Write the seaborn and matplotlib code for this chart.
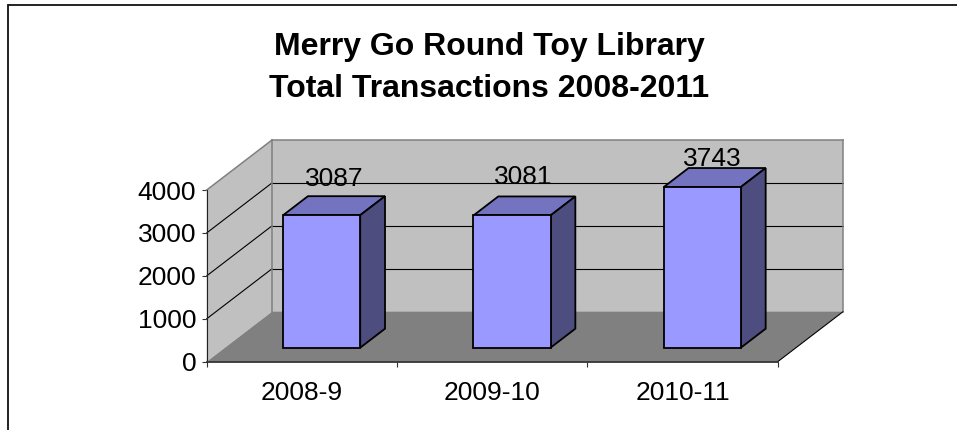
import matplotlib
matplotlib.use("Agg")
import matplotlib.pyplot as plt
from matplotlib.patches import Polygon
from matplotlib.transforms import Affine2D
from matplotlib.lines import Line2D
import seaborn as sns

categories = ["2008-9", "2009-10", "2010-11"]
transactions = [3087, 3081, 3743]
y_ticks = [0, 1000, 2000, 3000, 4000]
title_lines = ["Merry Go Round Toy Library", "Total Transactions 2008-2011"]

sns.set_theme(style="white")
plt.rcParams["font.family"] = ["Liberation Sans", "DejaVu Sans"]

W, H = 957, 430
fig = plt.figure(figsize=(W / 100, H / 100), dpi=100, facecolor="white")
ax = fig.add_axes([206.7 / W, (H - 361.7) / H, 571.0 / W, 171.7 / H])
ax.patch.set_visible(False)

sns.barplot(x=categories, y=transactions, color="#9999FF", saturation=1, width=0.405,
            edgecolor="black", linewidth=1.3, ax=ax, zorder=4)
bars = list(ax.patches)
ax.set_xlim(-0.5, 2.5)
ax.set_ylim(0, 4000)

DX, DY = 65.3, 50.0
BAR_NUDGE = 1.5  # px, bars sit slightly right of the category centre


def depth(d, nudge=0.0):
    return ax.transData + Affine2D().translate(DX * d + nudge, DY * d)


def prism_pts(x, y, d, nudge=0.0):
    return depth(d, nudge).transform((x, y))


x0, x1 = ax.get_xlim()
y0, y1 = ax.get_ylim()
pix = Affine2D()  # display coordinates


def face(points, **kw):
    p = Polygon(points, closed=True, transform=pix, clip_on=False, joinstyle="miter", **kw)
    ax.add_patch(p)
    return p


def seg(a, b, **kw):
    ax.add_line(Line2D([a[0], b[0]], [a[1], b[1]], transform=pix, clip_on=False, **kw))


WALL, FLOOR, EDGE = "#C0C0C0", "#808080", "#808080"
# side wall
face([prism_pts(x0, y0, 0), prism_pts(x0, y1, 0), prism_pts(x0, y1, 1), prism_pts(x0, y0, 1)],
     facecolor=WALL, edgecolor="none", zorder=1)
# back wall
face([prism_pts(x0, y0, 1), prism_pts(x0, y1, 1), prism_pts(x1, y1, 1), prism_pts(x1, y0, 1)],
     facecolor=WALL, edgecolor="none", zorder=1)
# floor
face([prism_pts(x0, y0, 0), prism_pts(x1, y0, 0), prism_pts(x1, y0, 1), prism_pts(x0, y0, 1)],
     facecolor=FLOOR, edgecolor="none", zorder=1.5)
# wall outlines
for a, b in [((x0, y1, 0), (x0, y1, 1)), ((x0, y1, 1), (x1, y1, 1)),
             ((x1, y1, 1), (x1, y0, 1)), ((x0, y1, 1), (x0, y0, 1))]:
    seg(prism_pts(*a), prism_pts(*b), color=EDGE, lw=1.1, zorder=2.2, solid_capstyle="projecting")
seg(prism_pts(x1, y0, 0), prism_pts(x1, y0, 1), color="black", lw=0.8, zorder=2.2)
# gridlines
for t in y_ticks[1:-1]:
    seg(prism_pts(x0, t, 0), prism_pts(x0, t, 1), color="black", lw=0.8, zorder=2)
    seg(prism_pts(x0, t, 1), prism_pts(x1, t, 1), color="black", lw=0.8, zorder=2)

NEAR, FAR = 0.28, 0.66
FRONT_TOP, FRONT_SIDE = "#7373BF", "#4D4D80"
for bar in bars:
    l, r = bar.get_x(), bar.get_x() + bar.get_width()
    v = bar.get_height()
    bar.set_transform(depth(NEAR, BAR_NUDGE))
    bar.set_clip_on(False)
    face([prism_pts(l, v, NEAR, BAR_NUDGE), prism_pts(r, v, NEAR, BAR_NUDGE),
          prism_pts(r, v, FAR, BAR_NUDGE), prism_pts(l, v, FAR, BAR_NUDGE)],
         facecolor=FRONT_TOP, edgecolor="black", lw=1.3, zorder=3.9)
    face([prism_pts(r, 0, NEAR, BAR_NUDGE), prism_pts(r, v, NEAR, BAR_NUDGE),
          prism_pts(r, v, FAR, BAR_NUDGE), prism_pts(r, 0, FAR, BAR_NUDGE)],
         facecolor=FRONT_SIDE, edgecolor="black", lw=1.3, zorder=3.9)

# value labels (pixel offsets from the top of each bar's front face)
label_shift = [(12.5, 36), (11.5, 38), (10, 28)]
for bar, v, (sx, sy) in zip(bars, transactions, label_shift):
    cx = bar.get_x() + bar.get_width() / 2
    X, Y = prism_pts(cx, v, NEAR, BAR_NUDGE)
    ax.text(X + sx, Y + sy, str(v), transform=pix, ha="center", va="center",
            fontsize=19, color="black", zorder=5, clip_on=False)

# axes
for s in ["top", "right"]:
    ax.spines[s].set_visible(False)
ax.spines["left"].set_color("#222222")
ax.spines["left"].set_linewidth(0.8)
ax.spines["bottom"].set_color("#333333")
ax.spines["bottom"].set_linewidth(1.3)
ax.set_yticks(y_ticks)
ax.set_xticks([x0 + i for i in range(4)])
ax.set_xticklabels([])
ax.set_xticks(range(3), labels=categories, minor=True)
ax.tick_params(axis="x", which="major", length=3.5, width=0.8, color="#333333", bottom=True)
ax.tick_params(axis="x", which="minor", length=0, pad=14, labelsize=19, labelcolor="black", bottom=True)
ax.tick_params(axis="y", length=3.5, width=0.8, color="#333333", pad=4, labelsize=19, labelcolor="black", left=True)
ax.set_xlabel("")
ax.set_ylabel("")
ax.grid(False)

# title
fig.text(489.5 / W, 1 - 68 / H, "\n".join(title_lines), ha="center", va="center",
         fontsize=23.0, fontweight="bold", color="black", linespacing=1.5)

# chart area frame
frame_c = "#111111"
fig.add_artist(Line2D([7.7 / W, 7.7 / W], [0, 1 - 5 / H], color=frame_c, lw=1.3, transform=fig.transFigure))
fig.add_artist(Line2D([7.7 / W, 1], [1 - 5 / H, 1 - 5 / H], color=frame_c, lw=1.3, transform=fig.transFigure))

fig.savefig("out.png", dpi=100, facecolor="white")
